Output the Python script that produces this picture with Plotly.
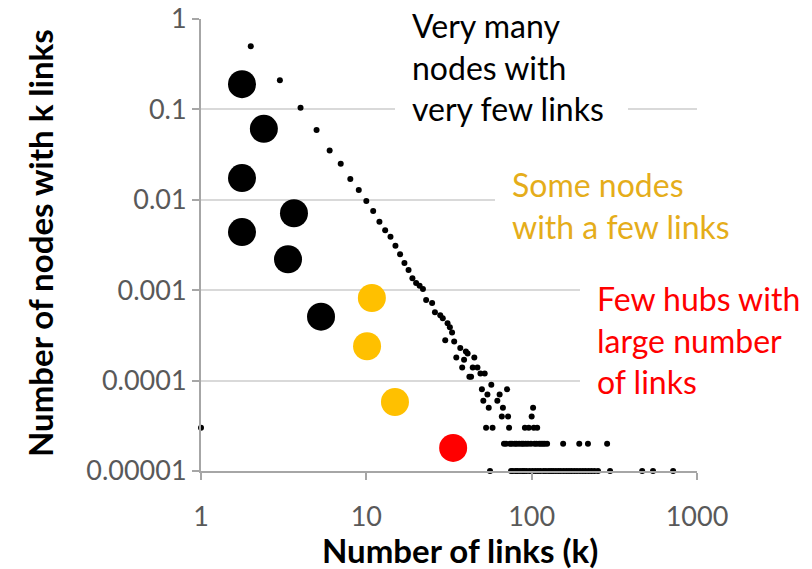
import plotly.graph_objects as go

# ---- data: degree distribution (small dots) ----
# head of the distribution, one point per degree k
head_k = [1, 2, 3, 4, 5, 6, 7, 8, 9, 10,
          11, 12, 13, 14, 15, 16, 17, 18, 19, 20,
          21, 22, 23, 25, 26, 28, 29, 31, 32, 33,
          30, 34, 37, 40, 41, 35, 39, 45, 38, 44,
          47, 43, 42, 49, 52, 50, 51, 57, 54, 64,
          62, 71, 55, 67, 102, 66, 72, 100, 53, 58,
          73, 91, 96, 103, 108]
head_p = [3e-5, 0.50, 0.21, 0.104, 0.059, 0.035, 0.025, 0.017, 0.0128, 0.0097,
          0.0075, 0.0057, 0.0046, 0.0039, 0.0031, 0.0025, 0.0020, 0.00167, 0.00136, 0.0012,
          0.00112, 0.00103, 0.00078, 0.00072, 0.00057, 0.00053, 0.00049, 0.00043, 0.00039, 0.00034,
          0.00028, 0.00027, 0.00023, 0.00021, 0.00020, 0.00018, 0.00017, 0.00018, 0.00014, 0.00014,
          0.00014, 0.00011, 0.00011, 0.00012, 0.00012, 8e-5, 6e-5, 9e-5, 7e-5, 7e-5,
          6e-5, 8e-5, 5e-5, 5e-5, 5e-5, 4e-5, 4e-5, 4e-5, 3e-5, 3e-5,
          3e-5, 3e-5, 3e-5, 3e-5, 3e-5]

# degrees with exactly two nodes (fraction 2e-5)
two_k = [68, 70, 74, 76, 79, 81, 84, 87, 89, 92,
         95, 99, 104, 107, 111, 114, 117, 120, 124, 155,
         194, 219, 286]
two_p = [2e-5, 2e-5, 2e-5, 2e-5, 2e-5, 2e-5, 2e-5, 2e-5, 2e-5, 2e-5,
         2e-5, 2e-5, 2e-5, 2e-5, 2e-5, 2e-5, 2e-5, 2e-5, 2e-5, 2e-5,
         2e-5, 2e-5, 2e-5]

# degrees with a single node (fraction 1e-5)
one_k = [56, 75, 77, 80, 82, 85, 88, 90, 93, 97,
         101, 105, 109, 113, 118, 122, 127, 131, 135, 140,
         145, 150, 156, 162, 168, 174, 181, 188, 196, 204,
         212, 221, 230, 240, 252, 298, 466, 542, 717]
one_p = [1e-5, 1e-5, 1e-5, 1e-5, 1e-5, 1e-5, 1e-5, 1e-5, 1e-5, 1e-5,
         1e-5, 1e-5, 1e-5, 1e-5, 1e-5, 1e-5, 1e-5, 1e-5, 1e-5, 1e-5,
         1e-5, 1e-5, 1e-5, 1e-5, 1e-5, 1e-5, 1e-5, 1e-5, 1e-5, 1e-5,
         1e-5, 1e-5, 1e-5, 1e-5, 1e-5, 1e-5, 1e-5, 1e-5, 1e-5]

# ---- highlighted big circles ----
black_k = [1.77, 2.40, 1.77, 3.65, 1.77, 3.36, 5.32]
black_p = [0.19, 0.061, 0.0174, 0.0071, 0.0044, 0.0022, 0.00051]
gold_k = [10.8, 10.1, 14.9]
gold_p = [0.00082, 0.00024, 0.000058]
red_k = [33.5]
red_p = [0.000018]

# ---- tick labels ----
x_tickvals = [1, 10, 100, 1000]
x_ticktext = ["1", "10", "100", "1000"]
y_tickvals = [1, 0.1, 0.01, 0.001, 0.0001, 0.00001]
y_ticktext = ["1", "0.1", "0.01", "0.001", "0.0001", "0.00001"]

FONT = "Lato"
L, R, T, B = 201, 115, 19, 98
W, H = 812, 569
PW, PH = W - L - R, H - T - B


def px(xp):
    return (xp - L) / PW


def py(yp):
    return (H - B - yp) / PH


fig = go.Figure()
for kx, pv, nm in [(head_k, head_p, "head"), (two_k, two_p, "two nodes"), (one_k, one_p, "one node")]:
    fig.add_trace(go.Scatter(x=kx, y=pv, mode="markers",
                             marker=dict(color="black", size=6), cliponaxis=False,
                             showlegend=False, name=nm))
fig.add_trace(go.Scatter(x=black_k, y=black_p, mode="markers",
                         marker=dict(color="black", size=28), cliponaxis=False,
                         showlegend=False, name="many nodes, few links"))
fig.add_trace(go.Scatter(x=gold_k, y=gold_p, mode="markers",
                         marker=dict(color="#FFC000", size=28), cliponaxis=False,
                         showlegend=False, name="some nodes"))
fig.add_trace(go.Scatter(x=red_k, y=red_p, mode="markers",
                         marker=dict(color="#FF0000", size=28), cliponaxis=False,
                         showlegend=False, name="hubs"))

axis_common = dict(showline=True, linecolor="#A6A6A6", linewidth=2,
                   ticks="outside", tickcolor="#A6A6A6", tickwidth=2, ticklen=7,
                   tickfont=dict(family=FONT, size=27, color="#595959"),
                   zeroline=False)
fig.update_xaxes(type="log", range=[0, 3], tickvals=x_tickvals, ticktext=x_ticktext,
                 showgrid=False, ticklabelstandoff=14, **axis_common)
fig.update_yaxes(type="log", range=[-5, 0], tickvals=y_tickvals, ticktext=y_ticktext,
                 showgrid=True, gridcolor="#D9D9D9", gridwidth=2, **axis_common)

shapes = [
    dict(type="rect", xref="paper", yref="paper", x0=px(395), x1=px(628), y0=py(128), y1=py(5)),
    dict(type="rect", xref="paper", yref="paper", x0=px(495), x1=px(812), y0=py(240), y1=py(168)),
    dict(type="rect", xref="paper", yref="paper", x0=px(580), x1=px(812), y0=py(395), y1=py(275)),
]
for s in shapes:
    s.update(fillcolor="white", line=dict(width=0), layer="above")

annotations = [
    dict(text="Very many<br>nodes with<br>very few links", x=px(411), y=py(5),
         xanchor="left", yanchor="top", font=dict(family=FONT, size=32, color="black")),
    dict(text="Some nodes<br>with a few links", x=px(511), y=py(164),
         xanchor="left", yanchor="top", font=dict(family=FONT, size=32, color="#E5AD1A")),
    dict(text="Few hubs with<br>large number<br>of links", x=px(596), y=py(278),
         xanchor="left", yanchor="top", font=dict(family=FONT, size=32, color="#FF0000")),
    dict(text="Number of links (k)", x=px(460), y=py(550), xanchor="center", yanchor="middle",
         font=dict(family=FONT, size=33, color="black", weight="bold")),
    dict(text="Number of nodes with k links", x=px(40), y=py(243), xanchor="center",
         yanchor="middle", textangle=-90,
         font=dict(family=FONT, size=33, color="black", weight="bold")),
]
for a in annotations:
    a.update(xref="paper", yref="paper", showarrow=False, align="left", borderpad=0)

fig.update_layout(width=W, height=H, margin=dict(l=L, r=R, t=T, b=B, autoexpand=False),
                  plot_bgcolor="white", paper_bgcolor="white",
                  shapes=shapes, annotations=annotations, showlegend=False)

fig.write_html("out.html", config={"displayModeBar": False},
               post_script="document.body.style.margin='0';document.body.style.overflow='hidden';")
